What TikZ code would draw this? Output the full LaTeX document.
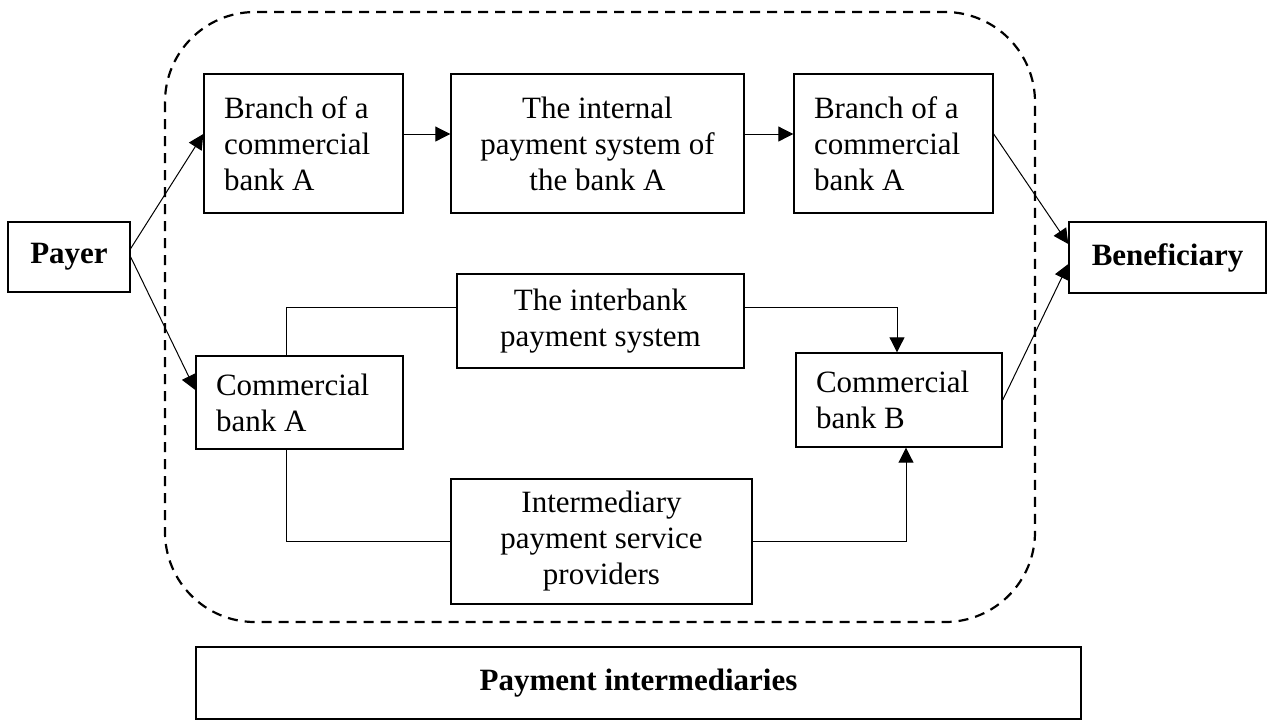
\documentclass[tikz,border=0pt]{standalone}
\usepackage{fontspec}
\setmainfont{Liberation Serif}
\usetikzlibrary{arrows.meta}
\definecolor{FlowBlack}{RGB}{0,0,0}

\begin{document}
\begin{tikzpicture}[x=0.5pt,y=-0.5pt,
		box/.style={draw=FlowBlack, line width=0.7pt, inner sep=0pt, align=center,
			font=\fontsize{15.5}{18}\selectfont},
		lbox/.style={box, align=flush left, inner xsep=10pt, text width=#1},
		flow/.style={line width=0.5pt, draw=FlowBlack, -{Triangle[length=7.5pt,width=7.5pt]}},
		link/.style={line width=0.5pt, draw=FlowBlack}]
		\useasboundingbox (0, 0) rectangle (1269, 720);
		\draw[line width=1.1pt, dash pattern=on 5pt off 3.5pt, rounded corners=45pt]
		(165, 12) rectangle (1035, 622);
		\node[box, minimum width=61pt, minimum height=35pt, font=\fontsize{15.5}{18}\selectfont\bfseries]
		(payer) at (69, 257) {Payer};
		\node[box, minimum width=98.5pt, minimum height=35.5pt, font=\fontsize{15.5}{18}\selectfont\bfseries]
		(beneficiary) at (1167.5, 257.5) {Beneficiary};
		\node[lbox=79.5pt, minimum height=69.5pt] (branchA) at (303.5, 143.5)
		{Branch of a\\commercial\\bank A};
		\node[box, minimum width=146.5pt, minimum height=69.5pt] (internalA) at (597.5, 143.5)
		{The internal\\payment system of\\the bank A};
		\node[lbox=79.5pt, minimum height=69.5pt] (branchA2) at (893.5, 143.5)
		{Branch of a\\commercial\\bank A};
		\node[box, minimum width=143.5pt, minimum height=47pt] (interbank) at (600.5, 321)
		{The interbank\\payment system};
		\node[lbox=83.5pt, minimum height=46.5pt] (bankA) at (299.5, 402.5)
		{Commercial\\bank A};
		\node[lbox=83pt, minimum height=47pt] (bankB) at (899, 400)
		{Commercial\\bank B};
		\node[box, minimum width=150.5pt, minimum height=62.5pt] (providers) at (601.5, 541.5)
		{Intermediary\\payment service\\providers};
		\node[box, minimum width=442.5pt, minimum height=36pt, font=\fontsize{15.5}{18}\selectfont\bfseries]
		(intermediaries) at (638.5, 683) {Payment intermediaries};
		% upper route through the branches of bank A
		\draw[flow] ([yshift=4.25pt]payer.east) -- ([yshift=4.75pt]branchA.west);
		\draw[flow] ([yshift=4.75pt]branchA.east) -- ([yshift=4.75pt]internalA.west);
		\draw[flow] ([yshift=4.75pt]internalA.east) -- ([yshift=4.75pt]branchA2.west);
		\draw[flow] ([yshift=4.75pt]branchA2.east) -- ([yshift=6.75pt]beneficiary.west);
		% lower route from bank A to bank B
		\draw[flow] (payer.east) -- ([yshift=6.25pt]bankA.west);
		\draw[link] ([xshift=-6.75pt]bankA.north) |- ([yshift=7pt]interbank.west);
		\draw[flow] ([yshift=7pt]interbank.east) -| ([xshift=-1pt]bankB.north);
		\draw[link] ([xshift=-6.75pt]bankA.south) |- (providers.west);
		\draw[flow] (providers.east) -| ([xshift=3.5pt]bankB.south);
		\draw[flow] (bankB.east) -- ([yshift=-3.25pt]beneficiary.west);
	\end{tikzpicture}
\end{document}
